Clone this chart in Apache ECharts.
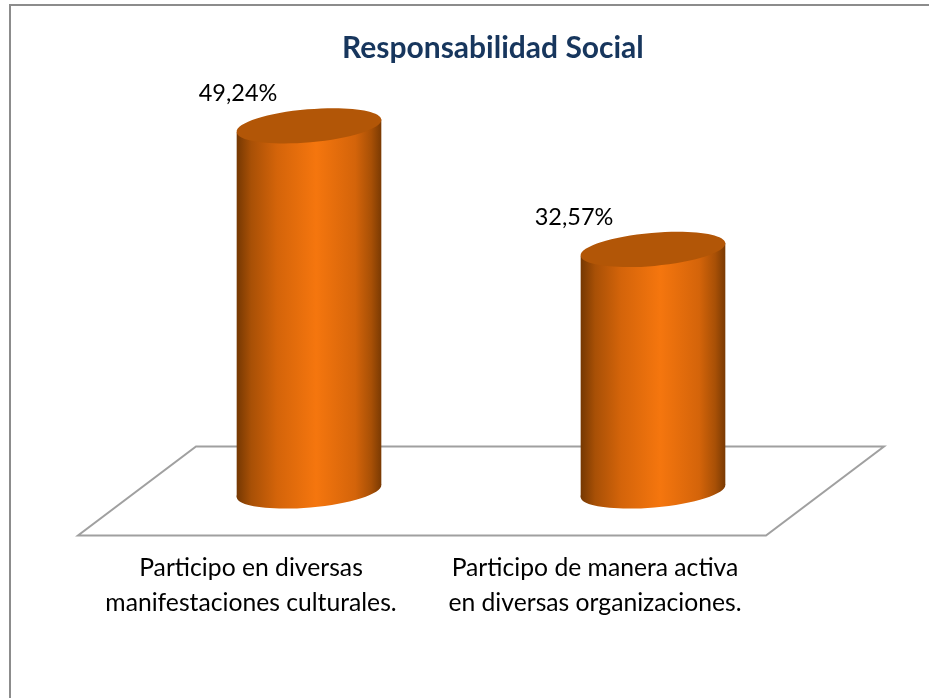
<!DOCTYPE html>
<html><head><meta charset="utf-8">
<style>html,body{margin:0;padding:0;background:#fff}#c{width:929px;height:698px}</style>
<script src="https://cdn.jsdelivr.net/npm/echarts@6/dist/echarts.min.js"></script>
</head><body><div id="c"></div>
<script>
const titleText = 'Responsabilidad Social';
const categories = ['Participo en diversas\nmanifestaciones culturales.', 'Participo de manera activa\nen diversas organizaciones.'];
const values = [49.24, 32.57];
const valueLabels = ['49,24%', '32,57%'];
const labelShiftX = [-71, -79];

const chart = echarts.init(document.getElementById('c'), null, {renderer:'canvas'});
const RX = 72.6, RY = 16.5, TILT = 5 * Math.PI / 180;
const DX = Math.cos(TILT) * RX, DY = Math.sin(TILT) * RX;
const bodyStops = [
  {offset:0, color:'#753802'},{offset:0.1, color:'#A85006'},{offset:0.28, color:'#D4640A'},
  {offset:0.55, color:'#F5760E'},{offset:0.82, color:'#D4640A'},{offset:0.93, color:'#A85006'},{offset:1, color:'#7A3A03'}
];
function cylinder(params, api){
  const i = api.value(0);
  const top = api.coord([i, api.value(1)]);
  const base = api.coord([i, 0]);
  const x = top[0];
  const fill = new echarts.graphic.LinearGradient(x-DX, 0, x+DX, 0, bodyStops, true);
  const ux = DX * Math.cos(TILT), uy = DX * Math.sin(TILT);
  const baseFill = new echarts.graphic.LinearGradient(-ux, -uy, ux, uy, bodyStops, true);
  return {type:'group', children:[
    {type:'ellipse', shape:{cx:0, cy:0, rx:RX, ry:RY}, x:x, y:base[1], rotation:TILT, style:{fill:baseFill}},
    {type:'polygon', shape:{points:[[x-DX,top[1]+DY],[x+DX,top[1]-DY],[x+DX,base[1]-DY],[x-DX,base[1]+DY]]}, style:{fill:fill}},
    {type:'ellipse', shape:{cx:0, cy:0, rx:RX, ry:RY}, x:x, y:top[1], rotation:TILT, style:{fill:'#B25607'}},
    {type:'text', x:x+labelShiftX[i], y:top[1]-32, style:{text:valueLabels[i], fill:'#000', font:'23.5px Lato', align:'center', verticalAlign:'middle'}}
  ]};
}
function floor(params, api){
  const c = params.coordSys, y = api.coord([0,0])[1], sx = 59, sy = 44.5;
  return {type:'polygon', silent:true, shape:{points:[
    [c.x+sx, y-sy],[c.x+c.width+sx, y-sy],[c.x+c.width-sx, y+sy],[c.x-sx, y+sy]]},
    style:{fill:'#fff', stroke:'#A0A0A0', lineWidth:2, lineJoin:'miter'}};
}
chart.setOption({
  animation:false,
  backgroundColor:'#fff',
  title:{text:titleText, left:337, top:28, textStyle:{fontFamily:'Lato', fontWeight:'bold', fontSize:30, color:'#17365D'}},
  grid:{left:137, width:688, top:46, height:445},
  xAxis:{type:'category', data:categories, axisLine:{show:false}, axisTick:{show:false},
    axisLabel:{margin:60, fontFamily:'Lato', fontSize:24.7, color:'#000', lineHeight:34.5, interval:0, padding:[0,116,0,0]}},
  yAxis:{type:'value', min:0, max:60, show:false},
  graphic:[{type:'polyline', z:10, silent:true, shape:{points:[[10,698],[10,5],[929,5]]}, style:{fill:null, stroke:'#8C8C8C', lineWidth:2}}],
  series:[
    {type:'custom', renderItem:floor, data:[[0,0]], z:1, clip:false, encode:{x:0,y:1}, silent:true},
    {type:'custom', renderItem:cylinder, data:values.map((v,i)=>[i,v]), z:2, clip:false, encode:{x:0,y:1}}
  ]
});
</script></body></html>
